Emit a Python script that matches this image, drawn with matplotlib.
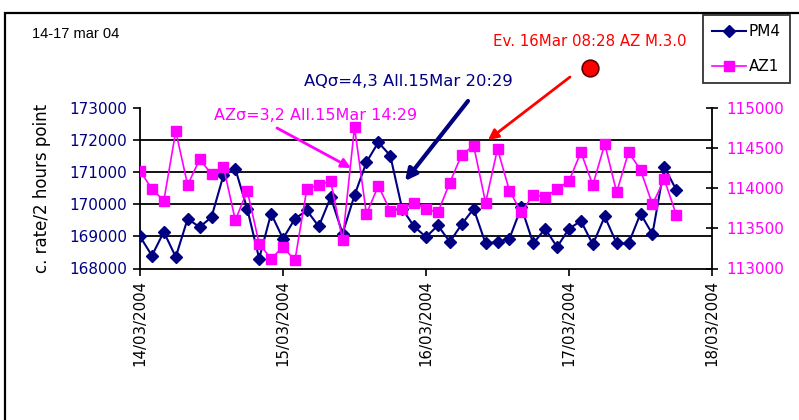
import matplotlib
matplotlib.use("Agg")
import matplotlib.pyplot as plt
import matplotlib.dates as mdates
from matplotlib.lines import Line2D
from matplotlib.patches import Rectangle
import pandas as pd

# ---------------- data ----------------
start_time = "2004-03-14 00:00"
step = "2h"
pm4 = [169000, 168400, 169140, 168360, 169550, 169290, 169600, 170900, 171100, 169860,
       168310, 169710, 168930, 169550, 169810, 169310, 170220, 169090, 170280, 171310,
       171930, 171520, 169860, 169310, 168980, 169340, 168830, 169380, 169860, 168780,
       168830, 168930, 169910, 168780, 169240, 168670, 169240, 169480, 168750, 169620,
       168780, 168780, 169710, 169070, 171160, 170450]
az1 = [114220, 113990, 113845, 114710, 114040, 114360, 114180, 114270, 113600, 113970,
       113310, 113120, 113270, 113100, 113990, 114040, 114090, 113350, 114760, 113680,
       114030, 113720, 113740, 113820, 113740, 113700, 114070, 114420, 114530, 113820,
       114490, 113970, 113700, 113920, 113890, 113990, 114090, 114450, 114040, 114550,
       113950, 114450, 114230, 113800, 114110, 113670]
times = pd.date_range(start_time, periods=len(pm4), freq=step)

x_ticks = pd.to_datetime(["2004-03-14", "2004-03-15", "2004-03-16", "2004-03-17", "2004-03-18"])
left_ticks = [168000, 169000, 170000, 171000, 172000, 173000]
right_ticks = [113000, 113500, 114000, 114500, 115000]

title = "14-17 mar 04"
ylabel = "c. rate/2 hours point"
label_pm4 = "PM4"
label_az1 = "AZ1"
note_aq = "AQσ=4,3 All.15Mar 20:29"
note_az = "AZσ=3,2 All.15Mar 14:29"
note_ev = "Ev. 16Mar 08:28 AZ M.3.0"

NAVY = "#000080"
MAG = "#FF00FF"
RED = "#FF0000"

W, H = 799, 420
fig = plt.figure(figsize=(W / 100, H / 100), dpi=100)
fig.patch.set_facecolor("white")

# outer chart border
fig.add_artist(Rectangle((5 / W, -0.05), 1.2, 1 - 13 / H + 0.05, transform=fig.transFigure,
                         fill=False, edgecolor="black", lw=1.6))

L, R, T, B = 140, 712, 108, 268.5
ax = fig.add_axes([L / W, 1 - B / H, (R - L) / W, (B - T) / H])
ax2 = ax.twinx()

# gridlines (left axis, interior only)
for v in left_ticks[1:-1]:
    ax.axhline(v, color="black", lw=1.3, zorder=1)

ax.plot(times, pm4, color=NAVY, lw=1.5, marker="D", ms=6, mfc=NAVY, mec=NAVY, zorder=3)
ax2.plot(times, az1, color=MAG, lw=1.2, marker="s", ms=6.5, mfc=MAG, mec=MAG, zorder=3)

ax.set_xlim(x_ticks[0], x_ticks[-1])
ax.set_ylim(left_ticks[0], left_ticks[-1])
ax2.set_ylim(right_ticks[0], right_ticks[-1])
ax.set_xticks(x_ticks)
ax.xaxis.set_major_formatter(mdates.DateFormatter("%d/%m/%Y"))
ax.set_yticks(left_ticks)
ax2.set_yticks(right_ticks)

for a in (ax, ax2):
    a.spines["top"].set_visible(False)
    a.patch.set_visible(False)
ax.spines["right"].set_visible(False)
ax2.spines["left"].set_visible(False)
ax2.spines["bottom"].set_visible(False)
ax.spines["left"].set_linewidth(1.3)
ax.spines["bottom"].set_linewidth(1.3)
ax2.spines["right"].set_linewidth(1.3)

ax.tick_params(axis="x", direction="out", length=5, width=1.2, labelsize=10.8,
               labelrotation=90, pad=3, colors="black")
ax.tick_params(axis="y", direction="out", length=5, width=1.2, labelsize=11,
               labelcolor=NAVY, pad=4)
ax2.tick_params(axis="y", direction="inout", length=8, width=1.2, labelsize=11,
                labelcolor=MAG, pad=6)

ax.set_ylabel(ylabel, fontsize=12, color="black")
ax.yaxis.set_label_coords(-0.171, 0.5)
ax.yaxis.label.set_va("center")

# title
fig.text(32 / W, 1 - 34 / H, title, fontsize=10.5, family="Liberation Sans",
         ha="left", va="center", color="black")

# annotations
def fp(x, y):
    return (x, H - y)

def arrow(tail, tip, color, lw, ms):
    ax.annotate("", xy=fp(*tip), xycoords="figure pixels",
                xytext=fp(*tail), textcoords="figure pixels",
                arrowprops=dict(arrowstyle="-|>", color=color, lw=lw, mutation_scale=ms,
                                shrinkA=0, shrinkB=0))

fig.text(408 / W, 1 - 82 / H, note_aq, fontsize=11.8, color=NAVY, ha="center", va="center")
arrow((468, 101), (405, 181), NAVY, 3, 17)
fig.text(316 / W, 1 - 115 / H, note_az, fontsize=11.5, color=MAG, ha="center", va="center")
arrow((277, 128), (351, 168), MAG, 2, 14)
fig.text(590 / W, 1 - 42 / H, note_ev, fontsize=10.8, color=RED, ha="center", va="center")
arrow((570, 77), (488, 140), RED, 2, 15)
fig.add_artist(Line2D([590 / W], [1 - 68 / H], marker="o", ms=12, mfc=RED, mec="#600000",
                      mew=1.2, transform=fig.transFigure))

# legend
handles = [Line2D([], [], color=NAVY, lw=1.5, marker="D", ms=6, mfc=NAVY, mec=NAVY),
           Line2D([], [], color=MAG, lw=1.2, marker="s", ms=6.5, mfc=MAG, mec=MAG)]
leg = fig.legend(handles, [label_pm4, label_az1], loc="upper left",
                 bbox_to_anchor=(703 / W, 1 - 15 / H), bbox_transform=fig.transFigure,
                 frameon=True, fancybox=False, edgecolor="black", fontsize=11,
                 handlelength=2.2, handletextpad=0.2, borderpad=0.6, labelspacing=1.3,
                 borderaxespad=0)
leg._legend_box.align = "left"
leg.get_frame().set_linewidth(1.3)

fig.savefig("out.png", dpi=100)
